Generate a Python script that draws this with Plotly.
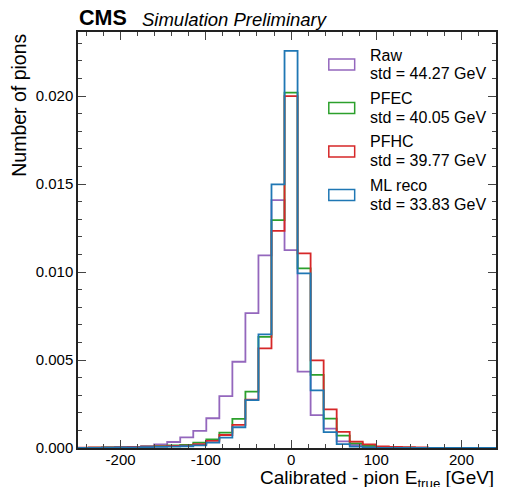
import plotly.graph_objects as go

# bin centres [GeV] (bin width ~15.3, central bin centred on 0)
bin_centers = [-244.8, -229.5, -214.2, -198.9, -183.6, -168.3, -153.0, -137.7,
               -122.4, -107.1, -91.8, -76.5, -61.2, -45.9, -30.6, -15.3, 0.0,
               15.3, 30.6, 45.9, 61.2, 76.5, 91.8, 107.1, 122.4, 137.7, 153.0,
               168.3, 183.6, 198.9, 214.2, 229.5, 244.8]

raw = [0.00001, 0.00001, 0.00002, 0.00004, 0.00006, 0.0001, 0.0002, 0.00034,
       0.0006, 0.00097, 0.00169, 0.00295, 0.0049, 0.00767, 0.01095, 0.01409, 0.01125,
       0.00434, 0.00187, 0.0011, 0.00038, 0.00017, 0.00006, 0.00003, 0.00001,
       0.00001, 0.0, 0.0, 0.0, 0.0, 0.0, 0.0, 0.0]
pfec = [0.00001, 0.00002, 0.00003, 0.00004, 0.00006, 0.00008, 0.00011, 0.00015,
        0.00018, 0.0003, 0.00049, 0.00087, 0.00165, 0.0032, 0.00632, 0.01295, 0.0202,
        0.01021, 0.00415, 0.00167, 0.0007, 0.00026, 0.00012, 0.00005, 0.00003,
        0.00002, 0.00001, 0.0, 0.0, 0.0, 0.0, 0.0, 0.0]
pfhc = [0.00002, 0.00003, 0.00004, 0.00005, 0.00006, 0.00007, 0.00009, 0.00012,
        0.00014, 0.00022, 0.0004, 0.00074, 0.00131, 0.00275, 0.00566, 0.01234, 0.0200,
        0.01106, 0.00498, 0.0022, 0.00092, 0.00036, 0.00021, 0.00009, 0.00006,
        0.00005, 0.00004, 0.0, 0.0, 0.0, 0.0, 0.0, 0.0]
mlreco = [0.00001, 0.00001, 0.00002, 0.00003, 0.00004, 0.00005, 0.00006, 0.00008,
          0.0001, 0.00015, 0.0003, 0.00059, 0.00118, 0.00272, 0.00646, 0.01498, 0.02257,
          0.00992, 0.00327, 0.0009, 0.00022, 0.00008, 0.00003, 0.00001, 0.0,
          0.0, 0.0, 0.0, 0.0, 0.0, 0.0, 0.0, 0.0]

names = ["Raw", "PFEC", "PFHC", "ML reco"]
stds = ["44.27", "40.05", "39.77", "33.83"]
colors = ["#9467bd", "#2ca02c", "#d62728", "#1f77b4"]
series = [raw, pfec, pfhc, mlreco]

FONT = "Liberation Sans, Arial, Helvetica, sans-serif"
# the page body has an 8px margin, so keep the figure inside the window
OFF = 8
W, H = 490, 479
ML, MR, MT, MB = 70, 0, 24, 39
PW, PH = W - ML - MR, H - MT - MB


def px2paper(x, y):
    # page pixel -> paper coords
    fx, fy = x - OFF, y - OFF
    return (fx - ML) / PW, (H - MB - fy) / PH


def step_xy(centers, vals):
    # histogram outline like histtype='step'
    w = centers[1] - centers[0]
    edges = [c - w / 2 for c in centers] + [centers[-1] + w / 2]
    xs = [edges[0]] + edges[:-1] + [edges[-1]]
    ys = [0.0] + list(vals) + [0.0]
    return xs, ys


fig = go.Figure()
for name, vals, col in zip(names, series, colors):
    xs, ys = step_xy(bin_centers, vals)
    fig.add_trace(go.Scatter(x=xs, y=ys, mode="lines", line=dict(color=col, width=1.8, shape="hv"),
                             name=name, showlegend=False))

# hand-made legend with outlined boxes
shapes = []
annos = []
for i, (name, sd, col) in enumerate(zip(names, stds, colors)):
    yc = 64.5 + i * 43.5
    x0, y0 = px2paper(330, yc + 5.5)
    x1, y1 = px2paper(356, yc - 5.5)
    shapes.append(dict(type="rect", xref="paper", yref="paper", x0=x0, x1=x1, y0=y0, y1=y1,
                       line=dict(color=col, width=1.5), fillcolor="rgba(0,0,0,0)"))
    tx, ty1 = px2paper(369, yc - 9.5)
    _, ty2 = px2paper(369, yc + 9)
    annos.append(dict(text=name, x=tx, y=ty1, xref="paper", yref="paper", xanchor="left",
                      yanchor="middle", showarrow=False, font=dict(size=16, color="black", family=FONT)))
    annos.append(dict(text="std = " + sd + " GeV", x=tx, y=ty2, xref="paper", yref="paper",
                      xanchor="left", yanchor="middle", showarrow=False,
                      font=dict(size=16, color="black", family=FONT)))

# CMS label
cx, cy = px2paper(77, 18.5)
annos.append(dict(text="<b>CMS</b>", x=cx, y=cy, xref="paper", yref="paper", xanchor="left",
                  yanchor="middle", showarrow=False, font=dict(size=21.5, color="black", family=FONT)))
sx, sy = px2paper(140, 19)
annos.append(dict(text="<i>Simulation Preliminary</i>", x=sx, y=sy, xref="paper", yref="paper",
                  xanchor="left", yanchor="middle", showarrow=False,
                  font=dict(size=18.5, color="black", family=FONT)))

# axis titles
xx, xy = px2paper(498, 479.5)
annos.append(dict(text="Calibrated - pion E<sub>true</sub> [GeV]", x=xx, y=xy, xref="paper", yref="paper",
                  xanchor="right", yanchor="middle", showarrow=False,
                  font=dict(size=19, color="black", family=FONT)))
yx, yy = px2paper(18, 32)
annos.append(dict(text="Number of pions", x=yx, y=yy, xref="paper", yref="paper", textangle=-90,
                  xanchor="center", yanchor="top", showarrow=False,
                  font=dict(size=19.5, color="black", family=FONT)))

axis_common = dict(showline=True, linecolor="#222", linewidth=1.5, mirror="allticks",
                   ticks="inside", ticklen=8, tickwidth=1, tickcolor="#444",
                   showgrid=False, zeroline=False,
                   tickfont=dict(size=15, color="black", family=FONT))

fig.update_layout(
    width=W, height=H,
    margin=dict(l=ML, r=MR, t=MT, b=MB),
    plot_bgcolor="white", paper_bgcolor="white",
    # range cut at the right like the reference image, which crops the last few pixels
    xaxis=dict(range=[-250, 240.5], tickvals=[-200, -100, 0, 100, 200],
               ticktext=["-200", "-100", "0", "100", "200"], ticklabelstandoff=-3,
               minor=dict(dtick=20, ticks="inside", ticklen=4, tickcolor="#444"),
               **axis_common),
    yaxis=dict(range=[0, 0.02364], dtick=0.005, tickformat=".3f",
               minor=dict(dtick=0.001, ticks="inside", ticklen=4, tickcolor="#444"),
               **axis_common),
    shapes=shapes,
    annotations=annos,
    showlegend=False,
)

fig.write_html("out.html")
